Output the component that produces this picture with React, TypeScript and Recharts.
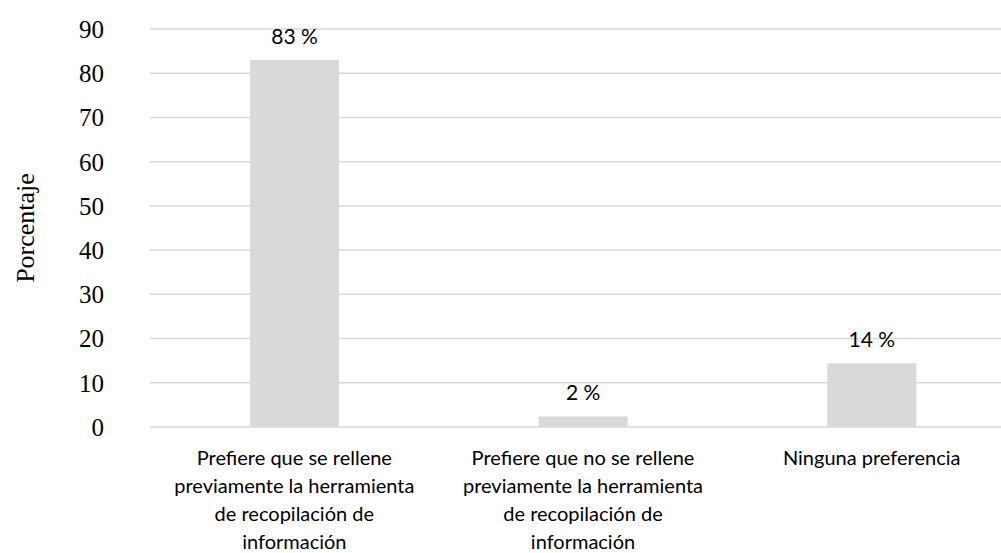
import React from 'react';
import { BarChart, Bar, XAxis, YAxis, CartesianGrid, LabelList, Label } from 'recharts';

// Survey answers, share of respondents in %
const categories = [
  'Prefiere que se rellene previamente la herramienta de recopilación de información',
  'Prefiere que no se rellene previamente la herramienta de recopilación de información',
  'Ninguna preferencia',
];
const percentages = [83, 2.4, 14.4];
const yTicks = [0, 10, 20, 30, 40, 50, 60, 70, 80, 90];

const data = categories.map((name, i) => ({ name, value: percentages[i] }));

const SANS = 'Lato, "Open Sans", sans-serif';
const SERIF = '"Liberation Serif", "Times New Roman", serif';

// naive word wrap, ~26 chars per line like the original
function wrap(text: string, max = 26) {
  const lines: string[] = [];
  let cur = '';
  text.split(' ').forEach((w) => {
    const next = cur ? cur + ' ' + w : w;
    if (next.length > max && cur) {
      lines.push(cur);
      cur = w;
    } else {
      cur = next;
    }
  });
  if (cur) lines.push(cur);
  return lines;
}

const CategoryTick = (props: any) => {
  const { x, y, payload } = props;
  const lines = wrap(payload.value);
  return (
    <text x={x} y={y} textAnchor="middle" fill="#000" fontFamily={SANS} fontSize={20}>
      {lines.map((l, i) => (
        <tspan key={i} x={x} y={y + 30 + i * 28}>
          {l}
        </tspan>
      ))}
    </text>
  );
};

export default function App() {
  return (
    <div style={{ position: 'absolute', left: 0, top: 0, width: 1001, height: 553, overflow: 'hidden', background: '#fff' }}>
      <BarChart width={1016} height={553} data={data} margin={{ top: 29, right: 0, left: 0, bottom: 0 }}>
        <CartesianGrid vertical={false} stroke="#d9d9d9" strokeWidth={1.5} />
        <XAxis
          dataKey="name"
          axisLine={false}
          tickLine={false}
          interval={0}
          height={126}
          tick={<CategoryTick />}
        />
        <YAxis
          width={150}
          domain={[0, 90]}
          ticks={yTicks}
          axisLine={false}
          tickLine={false}
          tickMargin={40}
          tick={{ fill: '#000', fontFamily: SERIF, fontSize: 25 }}
        >
          <Label
            content={({ viewBox }: any) => {
              const cy = viewBox.y + viewBox.height / 2;
              return (
                <text
                  x={25}
                  y={cy}
                  transform={`rotate(-90 25 ${cy})`}
                  textAnchor="middle"
                  dominantBaseline="central"
                  fontFamily={SERIF}
                  fontSize={26}
                  fill="#000"
                >
                  Porcentaje
                </text>
              );
            }}
          />
        </YAxis>
        <Bar dataKey="value" fill="#d9d9d9" barSize={89} isAnimationActive={false}>
          <LabelList
            dataKey="value"
            position="top"
            offset={16}
            formatter={(v: any) => `${Math.round(Number(v))} %`}
            style={{ fill: '#000', fontFamily: SANS, fontSize: 21 }}
          />
        </Bar>
      </BarChart>
    </div>
  );
}
